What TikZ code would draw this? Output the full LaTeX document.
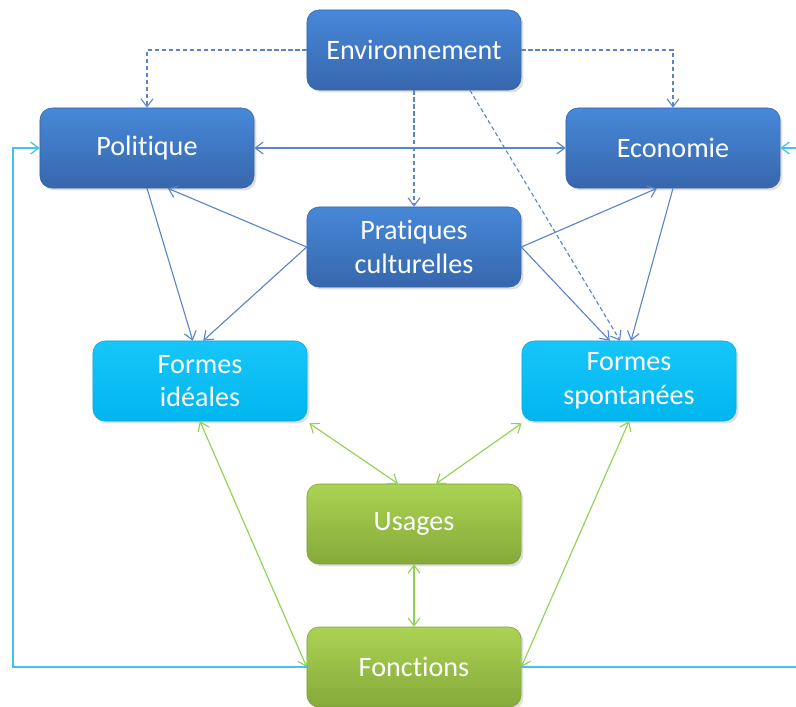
\documentclass[tikz,border=0pt]{standalone}
\usepackage{fontspec}
\setmainfont{Carlito}[RawFeature=-liga]
\usepackage{xcolor}
\usepackage{tikz}
\usetikzlibrary{arrows.meta,shadows}

\definecolor{blueT}{HTML}{4788D8}
\definecolor{blueB}{HTML}{3767AD}
\definecolor{blueD}{HTML}{3462A6}
\definecolor{cyanT}{HTML}{17C6FA}
\definecolor{cyanB}{HTML}{00B6EE}
\definecolor{cyanD}{HTML}{0AA9DC}
\definecolor{greenT}{HTML}{ABD353}
\definecolor{greenB}{HTML}{86A93A}
\definecolor{greenD}{HTML}{7F9F37}
\definecolor{lnblue}{HTML}{5A86C9}
\definecolor{lngreen}{HTML}{92D050}
\definecolor{lncyan}{HTML}{45C1EE}

\begin{document}
\begin{tikzpicture}[x=0.025cm,y=-0.025cm,>={Straight Barb[length=2mm,width=3mm]},
   font=\fontsize{20}{24}\selectfont,
   bx/.style={rounded corners=3mm,minimum width=5.35cm,minimum height=2cm,inner sep=0pt,
     text=white,align=center,drop shadow={opacity=0.25,shadow xshift=0.6mm,shadow yshift=-0.6mm}},
   bl/.style={bx,top color=blueT,bottom color=blueB,draw=blueD},
   cy/.style={bx,top color=cyanT,bottom color=cyanB,draw=cyanD},
   gr/.style={bx,top color=greenT,bottom color=greenB,draw=greenD},
   ln/.style={draw=lnblue,line width=0.8pt,->},
   dl/.style={ln,dash pattern=on 3pt off 2pt},
   gl/.style={draw=lngreen,line width=0.8pt,<->},
   cl/.style={draw=lncyan,line width=0.9pt,->}]
  \clip (0,0) rectangle (796,706);
  \node[bl] (env) at (414,50)  {Environnement};
  \node[bl] (pol) at (147,148) {Politique};
  \node[bl] (eco) at (673,148) {Economie};
  \node[bl] (pra) at (414,247) {Pratiques\\culturelles};
  \node[cy] (fid) at (200,381) {Formes\\idéales};
  \node[cy] (fsp) at (629,381) {Formes\\spontanées};
  \node[gr] (usa) at (414,524) {Usages};
  \node[gr] (fon) at (414,667) {Fonctions};
  \coordinate (lft) at (13,667);
  \coordinate (rgt) at (810,667);
  % environnement
  \draw[dl] (env.west) -| (pol.north);
  \draw[dl] (env.east) -| (eco.north);
  \draw[dl] (env.south) -- (pra.north);
  \draw[dl] ([xshift=1.4cm]env.south) -- ([xshift=-0.22cm]fsp.north);
  % blue links
  \draw[ln,<->] (pol.east) -- (eco.west);
  \draw[ln] (pol.south) -- ([xshift=-0.18cm]fid.north);
  \draw[ln] (pra.west) -- ([xshift=0.52cm]pol.south);
  \draw[ln] (pra.west) -- ([xshift=0.08cm]fid.north);
  \draw[ln] (pra.east) -- ([xshift=-0.4cm]eco.south);
  \draw[ln] (pra.east) -- ([xshift=-0.48cm]fsp.north);
  \draw[ln] (eco.south) -- ([xshift=0.05cm]fsp.north);
  % green links
  \draw[gl] ([xshift=0.05cm,yshift=-0.05cm]fid.south east) -- ([xshift=-0.4cm]usa.north);
  \draw[gl] ([yshift=-0.05cm]fsp.south west) -- ([xshift=0.55cm]usa.north);
  \draw[gl] (usa.south) -- (fon.north);
  \draw[gl] (fid.south) -- (fon.west);
  \draw[gl] (fsp.south) -- (fon.east);
  % feedback
  \draw[cl] (fon.west) -- (lft) |- (pol.west);
  \draw[cl] (fon.east) -- (rgt) |- (eco.east);
\end{tikzpicture}
\end{document}
